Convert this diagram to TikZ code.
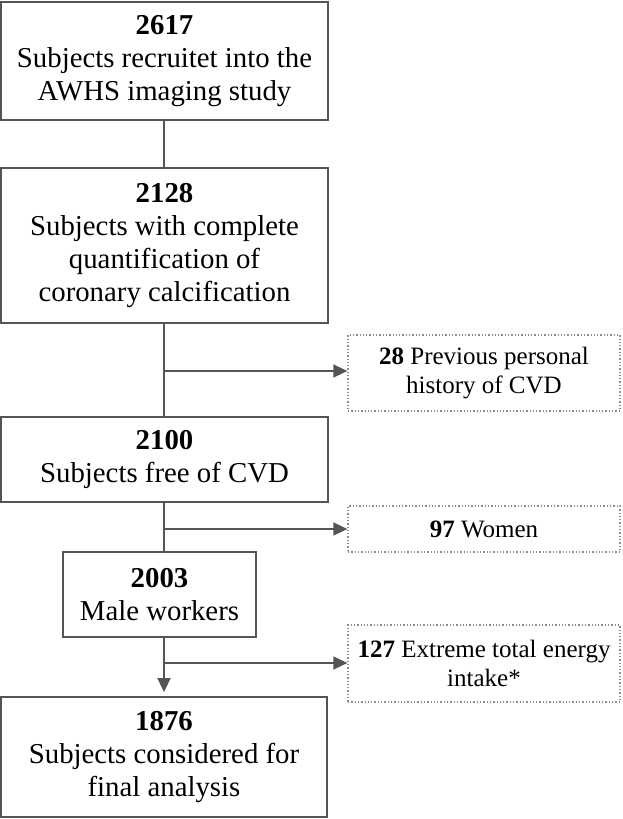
\documentclass[tikz,border=0pt]{standalone}
\usepackage{fontspec}
\setmainfont{Liberation Serif}
\usetikzlibrary{arrows.meta}

\definecolor{boxgray}{HTML}{555555}
\definecolor{dotgray}{HTML}{8C8C8C}

\begin{document}
\begin{tikzpicture}[x=1pt,y=-1pt,
    box/.style={draw=boxgray, line width=1.8pt, fill=white, align=center, inner sep=0pt,
                font=\fontsize{28.8}{33}\selectfont},
    exclbox/.style={draw=dotgray, dotted, line width=1.3pt, align=center, inner sep=0pt,
                font=\fontsize{25}{29}\selectfont},
    flow/.style={draw=boxgray, line width=1.6pt},
    tip/.style={-{Triangle[length=14pt,width=13pt]}}]
            \useasboundingbox (0,0) rectangle (622,819);

            % main column
            \node[box, minimum width=327pt, minimum height=118pt] (recruited) at (164.5,61)
                {\textbf{2617}\\Subjects recruitet into the\\AWHS imaging study};
            \node[box, minimum width=327pt, minimum height=155pt] (calcium) at (164.5,245.5)
                {\textbf{2128}\\Subjects with complete\\quantification of\\coronary calcification};
            \node[box, minimum width=327pt, minimum height=85pt] (freecvd) at (164.5,459.5)
                {\textbf{2100}\\Subjects free of CVD};
            \node[box, minimum width=193pt, minimum height=85pt] (male) at (159.5,594.5)
                {\textbf{2003}\\Male workers};
            \node[box, minimum width=326pt, minimum height=120pt] (final) at (164,757)
                {\textbf{1876}\\Subjects considered for\\final analysis};

            % exclusions
            \node[exclbox, minimum width=272pt, minimum height=76pt] (prevcvd) at (484,373)
                {\textbf{28} Previous personal\\history of CVD};
            \node[exclbox, minimum width=272pt, minimum height=46pt] (women) at (484,529)
                {\textbf{97} Women};
            \node[exclbox, minimum width=272pt, minimum height=77pt] (energy) at (484,663.5)
                {\textbf{127} Extreme total energy\\intake*};

            \coordinate (split1) at (164,371);
            \coordinate (split2) at (164,529);
            \coordinate (split3) at (164,663);

            \draw[flow] (recruited.south -| split1) -- (calcium.north -| split1);
            \draw[flow] (calcium.south -| split1) -- (freecvd.north -| split1);
            \draw[flow] (freecvd.south -| split2) -- (male.north -| split2);
            \draw[flow, tip, shorten >=4pt] (male.south -| split3) -- (final.north -| split3);

            \draw[flow, tip] (split1) -- (prevcvd.west |- split1);
            \draw[flow, tip] (split2) -- (women.west);
            \draw[flow, tip] (split3) -- (energy.west |- split3);

      \end{tikzpicture}
\end{document}
